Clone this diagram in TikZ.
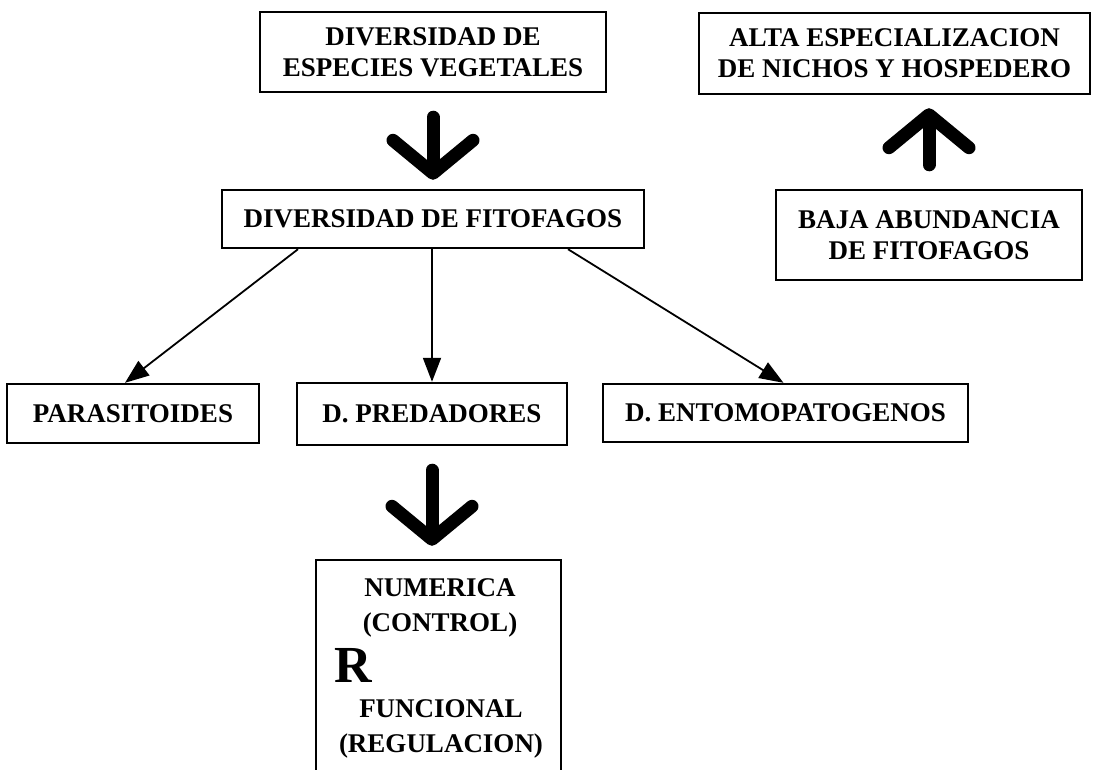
\documentclass[tikz,border=0pt]{standalone}
\usepackage{fontspec}
\setmainfont{Liberation Serif}
\usepackage{tikz}
\usetikzlibrary{arrows.meta,positioning}

\begin{document}
\begin{tikzpicture}[
    x=1pt,y=-1pt,
    box/.style={draw,line width=2.4pt,align=center,inner sep=0pt,font=\fontsize{27}{31}\selectfont\bfseries},
    boxtext/.style={align=center,inner sep=0pt,font=\fontsize{27}{35}\selectfont\bfseries},
    arrow/.style={-{Triangle[length=24pt,width=18pt]},line width=1.8pt},
    bigarrow/.style={-{Straight Barb[length=33pt,width=80pt,round]},line width=13pt,line cap=round}
  ]
    \useasboundingbox (0,0) rectangle (1113,769);
    \clip (0,0) rectangle (1113,769);
    % top row
    \node[box,minimum width=346pt,minimum height=80pt] (especies) at (433,52) {DIVERSIDAD DE\\ESPECIES VEGETALES};
    \node[box,minimum width=391pt,minimum height=81pt] (alta) at (894.5,53.5) {ALTA ESPECIALIZACION\\DE NICHOS Y HOSPEDERO};
    \node[box,minimum width=422pt,minimum height=58pt] (fito) at (433,219) {DIVERSIDAD DE FITOFAGOS};
    \node[box,minimum width=306pt,minimum height=90pt] (baja) at (929,235) {BAJA ABUNDANCIA\\DE FITOFAGOS};
    % enemigos naturales
    \node[box,minimum width=252pt,minimum height=59pt] (para) at (133,413.5) {PARASITOIDES};
    \node[box,minimum width=270pt,minimum height=62pt] (pred) at (432,414) {D. PREDADORES};
    \node[box,minimum width=365pt,minimum height=58pt] (ento) at (785.5,413) {D. ENTOMOPATOGENOS};
    % respuesta
    \node[box,minimum width=245pt,minimum height=240pt] (resp) at (438.5,680) {};
    \node[boxtext] (numerica) at (440,608) {NUMERICA\\(CONTROL)};
    \node[boxtext,font=\fontsize{52}{52}\selectfont\bfseries] (r) at (353,665) {R};
    \node[boxtext] (funcional) at (441,729) {FUNCIONAL\\(REGULACION)};

    \draw[bigarrow,shorten <=24pt,shorten >=9pt] (especies.south) -- (fito.north);
    \draw[bigarrow,shorten <=24pt,shorten >=13pt] (baja.north) -- (baja.north |- alta.south);
    \draw[bigarrow,shorten <=24pt,shorten >=13pt] (pred.south) -- (pred.south |- resp.north);

    \draw[arrow] ([xshift=-135pt]fito.south) -- ([xshift=-8pt]para.north);
    \draw[arrow] (fito.south -| pred.north) -- (pred.north);
    \draw[arrow] ([xshift=135pt]fito.south) -- ([xshift=-2pt]ento.north);
\end{tikzpicture}
\end{document}
